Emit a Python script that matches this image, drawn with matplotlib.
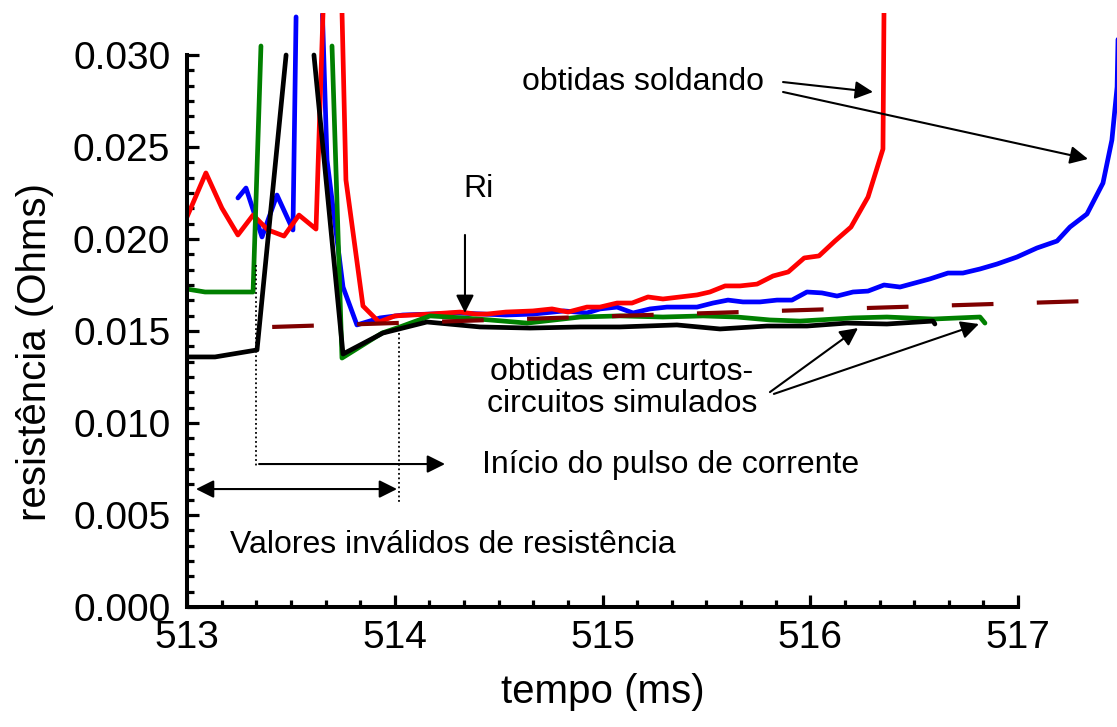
import numpy as np
import matplotlib
matplotlib.use("Agg")
import matplotlib.pyplot as plt
from matplotlib.ticker import FixedLocator

plt.rcParams["font.family"] = ["Liberation Sans", "DejaVu Sans"]

nan = np.nan

# --- curves (tempo in ms, resistencia in Ohms) ---
# the pulse spikes are broken lines in the original (gap between rise and fall)

# red: welding, breaks away near 516.35 ms
t_red = [513.0, 513.091, 513.168, 513.245, 513.318, 513.390, 513.467, 513.539, 513.621,
         513.655, 513.70, 513.746, 513.765, 513.847, 513.924, 514.001, 514.170, 514.314, 514.391,
         514.444, 514.535, 514.665, 514.757, 514.834, 514.925, 514.988, 515.070, 515.142,
         515.219, 515.291, 515.373, 515.455, 515.517, 515.590, 515.662, 515.744, 515.821,
         515.894, 515.971, 516.042, 516.119, 516.196, 516.278, 516.350, 516.355]
r_red = [0.02120, 0.02359, 0.02168, 0.02022, 0.02130, 0.02049, 0.02016, 0.02130, 0.02054,
         0.0324, nan, 0.0324, 0.02321, 0.01636, 0.01549, 0.01582, 0.01592, 0.01603, 0.01592,
         0.01592, 0.01603, 0.01609, 0.01620, 0.01603, 0.01630, 0.01630, 0.01652, 0.01652,
         0.01685, 0.01674, 0.01685, 0.01696, 0.01712, 0.01745, 0.01745, 0.01755, 0.01799,
         0.01821, 0.01897, 0.01908, 0.01989, 0.02065, 0.02228, 0.02489, 0.0324]

# blue: welding, breaks away past 517.4 ms
t_blue = [513.245, 513.284, 513.361, 513.433, 513.510, 513.525, 513.59, 513.652, 513.674,
          513.751, 513.818, 513.929, 514.040, 514.170, 514.300, 514.535, 514.665, 514.815,
          514.925, 514.988, 515.070, 515.147, 515.229, 515.310, 515.455, 515.532, 515.604,
          515.676, 515.758, 515.840, 515.912, 515.984, 516.056, 516.129, 516.206, 516.278,
          516.355, 516.432, 516.576, 516.663, 516.735, 516.817, 516.899, 516.995, 517.091,
          517.188, 517.250, 517.332, 517.409, 517.452, 517.477, 517.49]
r_blue = [0.02223, 0.02277, 0.02011, 0.02239, 0.02049, 0.03207, nan, 0.0322, 0.02429,
          0.01739, 0.01533, 0.01571, 0.01587, 0.01592, 0.01598, 0.01587, 0.01592, 0.01609,
          0.01598, 0.01620, 0.01630, 0.01598, 0.01620, 0.01630, 0.01630, 0.01652, 0.01668,
          0.01658, 0.01658, 0.01668, 0.01668, 0.01712, 0.01707, 0.01690, 0.01712, 0.01717,
          0.01750, 0.01739, 0.01783, 0.01815, 0.01815, 0.01837, 0.01864, 0.01902, 0.01951,
          0.01989, 0.02065, 0.02136, 0.02304, 0.02538, 0.02826, 0.036]

# green: simulated short circuit
t_green = [513.0, 513.087, 513.318, 513.356, 513.52, 513.698, 513.746, 513.939, 514.025, 514.170,
           514.329, 514.458, 514.637, 514.892, 515.084, 515.291, 515.484, 515.647, 515.806,
           515.951, 516.206, 516.369, 516.591, 516.817, 516.841]
r_green = [0.01728, 0.01712, 0.01712, 0.03049, nan, 0.03049, 0.01353, 0.01489, 0.01522, 0.01582,
           0.01571, 0.01560, 0.01543, 0.01576, 0.01582, 0.01576, 0.01582, 0.01576, 0.01560,
           0.01554, 0.01571, 0.01576, 0.01565, 0.01576, 0.01543]

# black: simulated short circuit
t_black = [513.0, 513.135, 513.337, 513.477, 513.54, 513.611, 513.751, 513.943, 514.155, 514.410,
           514.651, 514.892, 515.084, 515.358, 515.566, 515.792, 515.984, 516.177, 516.369,
           516.591, 516.600]
r_black = [0.01359, 0.01359, 0.01397, 0.03000, nan, 0.03000, 0.01375, 0.01489, 0.01549, 0.01522,
           0.01516, 0.01522, 0.01522, 0.01533, 0.01511, 0.01527, 0.01527, 0.01543, 0.01538,
           0.01554, 0.01538]

# dashed reference (fit)
t_fit = [513.41, 517.5]
r_fit = [0.01522, 0.01669]

# dotted markers of the invalid interval
t_mark1 = [513.332, 513.332]
r_mark1 = [0.01859, 0.00761]
t_mark2 = [514.020, 514.020]
r_mark2 = [0.01489, 0.00565]

W, H = 1117, 727
fig = plt.figure(figsize=(W / 100, H / 100), dpi=100)
ax = fig.add_axes([187 / W, 120 / H, 930 / W, 594 / H])
ax.set_xlim(513, 513 + 930 / 207.75)
ax.set_ylim(0, 594 / 18400)

lw = 3.4
style = dict(lw=lw, solid_capstyle="round", solid_joinstyle="round")
ax.plot(t_blue, r_blue, color="#0000ff", **style)
ax.plot(t_red, r_red, color="#ff0000", **style)
ax.plot(t_green, r_green, color="#008000", **style)
ax.plot(t_black, r_black, color="black", **style)
ax.plot(t_fit, r_fit, color="#7f0000", lw=3.0, ls=(0, (10.0, 10.4)), dash_capstyle="butt")

ax.plot(t_mark1, r_mark1, color="black", lw=1.3, ls=(0, (1, 1.5)))
ax.plot(t_mark2, r_mark2, color="black", lw=1.3, ls=(0, (1, 1.5)))

# axes styling
for s in ["top", "right"]:
    ax.spines[s].set_visible(False)
ax.spines["left"].set_bounds(0, 0.030)
ax.spines["bottom"].set_bounds(513, 517)
for s in ["left", "bottom"]:
    ax.spines[s].set_linewidth(2.9)

ax.xaxis.set_major_locator(FixedLocator([513, 514, 515, 516, 517]))
ax.xaxis.set_minor_locator(FixedLocator([513 + i / 6 for i in range(25) if i % 6]))
ax.yaxis.set_major_locator(FixedLocator([0.005 * i for i in range(7)]))
ax.yaxis.set_minor_locator(FixedLocator([0.005 * i / 6 for i in range(37) if i % 6]))
ax.set_yticklabels(["0.000", "0.005", "0.010", "0.015", "0.020", "0.025", "0.030"])
ax.set_xticklabels(["513", "514", "515", "516", "517"])

ax.tick_params(which="both", direction="in", width=2.3, top=False, right=False)
ax.tick_params(which="major", length=8.5)
ax.tick_params(which="minor", length=4.8)
ax.tick_params(axis="x", which="major", labelsize=28, pad=9)
ax.tick_params(axis="y", which="major", labelsize=28, pad=12)

ax.set_xlabel("tempo (ms)", fontsize=29, va="center")
ax.xaxis.set_label_coords(0.4468, -0.143)
ax.set_ylabel("resistência (Ohms)", fontsize=29, va="center")
ax.yaxis.set_label_coords(-0.1634, 0.429)

# annotations
arr = dict(arrowstyle="-|>,head_length=0.4,head_width=0.2", color="black",
           lw=1.5, shrinkA=0, shrinkB=0, mutation_scale=27)
arr2 = dict(arrowstyle="<|-|>,head_length=0.4,head_width=0.2", color="black",
            lw=1.5, shrinkA=0, shrinkB=0, mutation_scale=27)
fs = 23

ax.text(515.195, 0.02853, "obtidas soldando", fontsize=fs, ha="center", va="center")
ax.annotate("", xy=(516.302, 0.02799), xytext=(515.869, 0.02853), arrowprops=arr)
ax.annotate("", xy=(517.337, 0.02435), xytext=(515.869, 0.02799), arrowprops=arr)

ax.text(514.329, 0.02272, "Ri", fontsize=fs, ha="left", va="center")
ax.annotate("", xy=(514.338, 0.01598), xytext=(514.338, 0.02022), arrowprops=arr)

ax.text(515.094, 0.0119, "obtidas em curtos-\ncircuitos simulados", fontsize=fs,
        ha="center", va="center", multialignment="center", linespacing=1.1)
ax.annotate("", xy=(516.230, 0.01516), xytext=(515.806, 0.01168), arrowprops=arr)
ax.annotate("", xy=(516.812, 0.01538), xytext=(515.825, 0.01158), arrowprops=arr)

ax.text(514.420, 0.00772, "Início do pulso de corrente", fontsize=fs, ha="left", va="center")
ax.annotate("", xy=(514.242, 0.00777), xytext=(513.347, 0.00777), arrowprops=arr)

ax.text(513.207, 0.00337, "Valores inválidos de resistência", fontsize=fs, ha="left", va="center")
ax.annotate("", xy=(514.011, 0.00641), xytext=(513.043, 0.00641), arrowprops=arr2)

fig.savefig("out.png", dpi=100)
